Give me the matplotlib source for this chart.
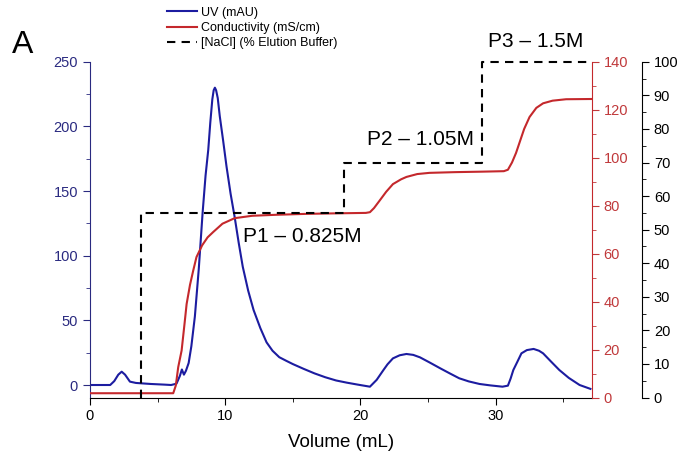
import matplotlib
matplotlib.use("Agg")
import matplotlib.pyplot as plt
from matplotlib.ticker import MultipleLocator
from matplotlib.lines import Line2D

plt.rcParams['font.family'] = ['Liberation Sans', 'DejaVu Sans']

# UV trace (mL, mAU)
uv_vol = [0, 1.5, 1.8, 2.1, 2.35, 2.6, 2.96, 3.4, 3.8, 4.5, 5.5, 6.0, 6.4, 6.65,
          6.8, 6.95, 7.1, 7.3, 7.5, 7.76, 8.05, 8.33, 8.55, 8.75, 8.9, 9.05,
          9.15, 9.24, 9.33, 9.45, 9.6, 9.85, 10.1, 10.4, 10.7, 11.0, 11.3, 11.7,
          12.1, 12.6, 13.06, 13.5, 14.0, 14.5, 15.0, 15.8, 16.6, 17.4, 18.2,
          19.0, 19.8, 20.7, 21.2, 21.7, 22.0, 22.4, 22.9, 23.4, 23.9, 24.4,
          25.1, 25.9, 26.6, 27.3, 28.0, 28.8, 29.6, 30.5, 30.9, 31.1, 31.3,
          31.6, 31.9, 32.3, 32.8, 33.2, 33.5, 34.1, 34.7, 35.4, 36.2, 37.0]
uv_mau = [0, 0, 3, 8, 10.3, 8, 2.6, 1.6, 1.3, 0.8, 0.3, 0, 1, 7,
          12, 8, 11, 17, 30, 53, 90, 133, 162, 182, 203, 221,
          228, 230, 228, 222, 208, 189, 169, 148, 130, 110, 91.5, 73,
          58, 44, 33, 26.5, 21.5, 18.8, 16.2, 12.5, 9, 6, 3.5,
          1.8, 0.3, -1.3, 4, 11.6, 16, 20.6, 23, 24, 23.3, 21.4,
          17.5, 12.9, 9, 5.2, 2.8, 0.8, -0.3, -1.3, -0.5, 5, 11.6,
          18, 24.5, 27, 27.9, 26.5, 24.5, 18, 11.6, 5.5, 0, -3]

# Conductivity trace (mL, mS/cm)
cond_vol = [0, 6.16, 6.35, 6.53, 6.78, 7.0, 7.15, 7.4, 7.64, 7.88, 8.3, 8.7,
            9.11, 9.8, 10.7, 12.0, 13.7, 16, 18, 20.4, 20.7, 21.0, 21.4, 21.9,
            22.4, 23.0, 23.4, 24.2, 25.1, 27, 29, 30.6, 30.9, 31.2, 31.5, 31.8,
            32.1, 32.5, 33.0, 33.5, 34.2, 35.2, 37.1]
cond_ms = [1.8, 1.8, 5, 12.7, 19.6, 31, 39, 47, 53, 58.6, 63.5, 66.8,
           69, 72.5, 74.8, 75.8, 76.2, 76.6, 76.8, 77, 77.3, 79, 82, 85.8,
           89, 91, 92, 93.2, 93.7, 94, 94.2, 94.4, 95, 98, 102, 107,
           112, 117, 120.8, 122.7, 123.8, 124.4, 124.5]

# NaCl step gradient (% elution buffer)
nacl_vol = [3.8, 3.8, 18.8, 18.8, 29.0, 29.0, 37.1]
nacl_pct = [0, 55, 55, 70, 70, 100, 100]

step_labels = ["P1 \u2013 0.825M", "P2 \u2013 1.05M", "P3 \u2013 1.5M"]
step_label_pos = [(11.3, 48), (20.5, 77), (29.4, 106)]

blue = "#1c1ca0"
blue_txt = "#2a2a80"
red = "#c4282c"
red_txt = "#c0393b"

fig = plt.figure(figsize=(6.81, 4.58), dpi=100)
ax = fig.add_axes([0.132, 0.132, 0.737, 0.733])
ax2 = ax.twinx()
ax3 = ax.twinx()

ax.plot(uv_vol, uv_mau, color=blue, lw=1.5)
ax2.plot(cond_vol, cond_ms, color=red, lw=1.5)
ax3.plot(nacl_vol, nacl_pct, color="black", lw=1.5, dashes=(4, 3), clip_on=False)

ax.set_xlim(0, 37.1)
ax.set_ylim(-9.7, 250)
ax2.set_ylim(0, 140)
ax3.set_ylim(0, 100)

for a in (ax, ax2, ax3):
    a.spines['top'].set_visible(False)
ax.spines['right'].set_visible(False)
ax2.spines['left'].set_visible(False)
ax3.spines['left'].set_visible(False)
ax2.spines['bottom'].set_visible(False)
ax3.spines['bottom'].set_visible(False)
ax3.spines['right'].set_position(('axes', 1.1))

ax.spines['left'].set_color(blue_txt)
ax2.spines['right'].set_color(red)

ax.xaxis.set_major_locator(MultipleLocator(10))
ax.xaxis.set_minor_locator(MultipleLocator(5))
ax.yaxis.set_major_locator(MultipleLocator(50))
ax.yaxis.set_minor_locator(MultipleLocator(25))
ax2.yaxis.set_major_locator(MultipleLocator(20))
ax2.yaxis.set_minor_locator(MultipleLocator(10))
ax3.yaxis.set_major_locator(MultipleLocator(10))
ax3.yaxis.set_minor_locator(MultipleLocator(5))

ax.tick_params(axis='x', which='major', length=5, labelsize=10.5, direction='out')
ax.tick_params(axis='x', which='minor', length=3, direction='out')
ax.tick_params(axis='y', which='major', length=5, labelsize=10.5, colors=blue_txt)
ax.tick_params(axis='y', which='minor', length=3, colors=blue_txt)
ax2.tick_params(axis='y', which='major', length=5, labelsize=10.5, colors=red_txt)
ax2.tick_params(axis='y', which='minor', length=3, colors=red_txt)
ax3.tick_params(axis='y', which='major', length=5, labelsize=10.5)
ax3.tick_params(axis='y', which='minor', length=3)

ax.set_xlabel("Volume (mL)", fontsize=13.5, labelpad=8)

for txt, (xv, yv) in zip(step_labels, step_label_pos):
    ax3.text(xv, yv, txt, fontsize=15, va='center', ha='left', clip_on=False)

fig.text(0.018, 0.884, "A", fontsize=23, va='baseline')

handles = [Line2D([], [], color=blue, lw=1.5),
           Line2D([], [], color=red, lw=1.5),
           Line2D([], [], color="black", lw=1.5, dashes=(4, 3))]
labels = ["UV (mAU)", "Conductivity (mS/cm)", "[NaCl] (% Elution Buffer)"]
fig.legend(handles, labels, loc='upper left', bbox_to_anchor=(0.245, 0.985),
           frameon=False, fontsize=9, borderpad=0, borderaxespad=0,
           handlelength=2.4, handletextpad=0.3, labelspacing=0.25)

fig.savefig("out.png", dpi=100)
